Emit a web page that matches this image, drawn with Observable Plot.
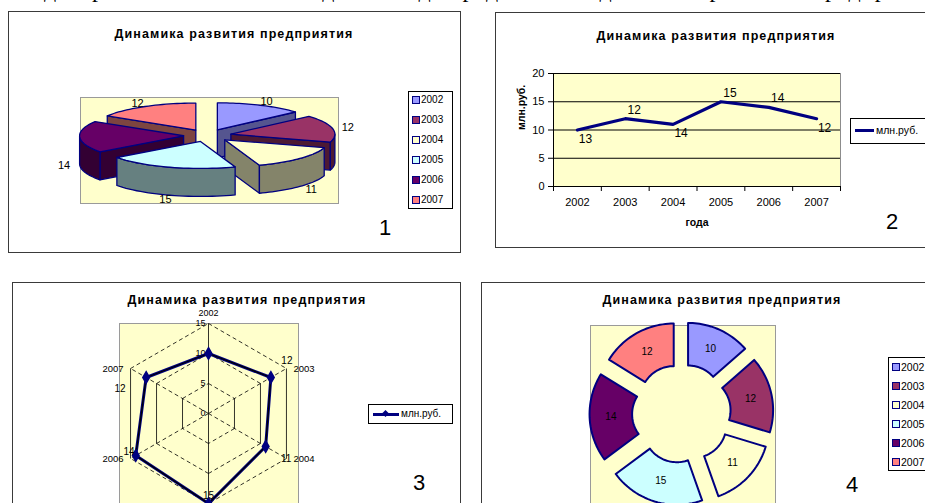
<!DOCTYPE html>
<html><head><meta charset="utf-8">
<script src="https://cdn.jsdelivr.net/npm/d3@7"></script>
<script src="https://cdn.jsdelivr.net/npm/@observablehq/plot@0.6"></script>
<style>
body{margin:0;background:#fff;font-family:"Liberation Sans",Arial,sans-serif;color:#000;}
#page{position:relative;width:925px;height:503px;overflow:hidden;background:#fff;}
.panel{position:absolute;border:1.5px solid #3a3a3a;box-sizing:border-box;}
.yellow{position:absolute;background:#FFFFCC;border:1px solid #9a9a9a;box-sizing:border-box;}
.title{position:absolute;font-weight:bold;font-size:12.5px;letter-spacing:1.1px;white-space:nowrap;transform:translate(-50%,-50%);}
.num{position:absolute;font-size:22px;transform:translate(-50%,-50%);}
.legend{position:absolute;border:1px solid #000;background:#fff;box-sizing:border-box;}
.lg-item{position:absolute;font-size:10px;white-space:nowrap;}
.sw{position:absolute;width:6px;height:6px;border:1px solid #000080;}
.chart{position:absolute;}
#topline{position:absolute;left:-4px;top:-24px;font-family:"Liberation Serif","Times New Roman",serif;font-size:24px;white-space:nowrap;letter-spacing:0.6px;color:#000;-webkit-font-smoothing:antialiased;}
</style></head>
<body><div id="page"></div>
<script>
// ---------------- data ----------------
const years = ["2002", "2003", "2004", "2005", "2006", "2007"];
const values = [10, 12, 11, 15, 14, 12];
const lineLabels = ["13", "12", "14", "15", "14", "12"];   // labels as printed on chart 2
const yTicks = [0, 5, 10, 15, 20];
const radarTicks = [0, 5, 10, 15];
const seriesName = "млн.руб.";
const chartTitle = "Динамика развития предприятия";
const xTitle = "года";
// palette (Excel classic)
const topColors = ["#9999FF", "#993366", "#FFFFCC", "#CCFFFF", "#660066", "#FF8080"];
const sideColors = ["#55558f", "#4d1a33", "#84846a", "#668080", "#330033", "#7d4540"];
const NAVY = "#000080";

const page = document.getElementById("page");
function el(cls, css, html) {
  const d = document.createElement("div");
  if (cls) d.className = cls;
  Object.assign(d.style, css);
  if (html != null) d.textContent = html;
  page.appendChild(d);
  return d;
}
const baseStyle = {background: "transparent", fontFamily: "'Liberation Sans', Arial, sans-serif", fontSize: "11px", color: "#000", overflow: "visible"};

// top cut-off line of text
const tl = el(null, {}, "ные диаграммы на основании данных где представлена динамика развития предприятия");
tl.id = "topline";

// ---------------- panel frames ----------------
el("panel", {left: "8px", top: "11px", width: "453px", height: "242px"});
el("panel", {left: "495px", top: "12px", width: "440px", height: "236px"});
el("panel", {left: "12px", top: "282px", width: "449px", height: "240px"});
el("panel", {left: "481px", top: "282px", width: "460px", height: "240px"});

el("yellow", {left: "80px", top: "97px", width: "259px", height: "107px"});
el("yellow", {left: "119px", top: "323px", width: "180px", height: "200px"});
el("yellow", {left: "590px", top: "325px", width: "186px", height: "200px"});

const pie = d3.pie().sort(null).value(d => d)(values);
const mid = p => (p.startAngle + p.endAngle) / 2;
function arcPts(a0, a1, r, ox, oy, dy = 0, n = 28) {
  const pts = [];
  for (let k = 0; k <= n; k++) {
    const a = a0 + (a1 - a0) * k / n;
    pts.push({x: ox + r * Math.sin(a), y: oy - r * Math.cos(a) + dy});
  }
  return pts;
}
function poly(pts, fill, sw = 1.3) {
  return Plot.line(pts, {x: "x", y: "y", curve: "linear-closed", fill, stroke: NAVY, strokeWidth: sw, strokeLinejoin: "round"});
}

// ---------------- chart 1 : exploded 3-D pie ----------------
{
  const W = 450, H = 239, cx = 198, cy = 123, ux = 104, uy = 27;
  const E = 0.23, D = 28 / uy;
  const order = pie.map((p, i) => i).sort((a, b) => Math.cos(mid(pie[b])) - Math.cos(mid(pie[a])));
  const marks = [];
  for (const i of order) {
    const p = pie[i], a0 = p.startAngle, a1 = p.endAngle, m = mid(p);
    const ox = E * Math.sin(m), oy = -E * Math.cos(m);
    const P = (a, dy = 0) => ({x: ox + Math.sin(a), y: oy - Math.cos(a) + dy});
    if (Math.sin(a0) < -1e-6) marks.push(poly([{x: ox, y: oy}, P(a0), P(a0, D), {x: ox, y: oy + D}], sideColors[i]));
    if (Math.sin(a1) > 1e-6) marks.push(poly([{x: ox, y: oy}, P(a1), P(a1, D), {x: ox, y: oy + D}], sideColors[i]));
    const b0 = Math.max(a0, Math.PI / 2), b1 = Math.min(a1, 3 * Math.PI / 2);
    if (b1 > b0) marks.push(poly([...arcPts(b0, b1, 1, ox, oy), ...arcPts(b1, b0, 1, ox, oy, D)], sideColors[i]));
    marks.push(poly([{x: ox, y: oy}, ...arcPts(a0, a1, 1, ox, oy)], topColors[i]));
  }
  const lab = pie.map((p, i) => {
    const m = mid(p), r = 1.38;
    return {x: r * Math.sin(m), y: -r * Math.cos(m) + (Math.cos(m) < 0 ? D : 0), t: String(values[i])};
  });
  marks.push(Plot.text(lab, {x: "x", y: "y", text: "t", fontSize: 11, fill: "#000"}));
  const svg = Plot.plot({
    width: W, height: H, margin: 0, style: baseStyle,
    x: {domain: [-cx / ux, (W - cx) / ux], range: [0, W], axis: null},
    y: {domain: [-cy / uy, (H - cy) / uy], range: [0, H], axis: null},
    marks
  });
  el("chart", {left: "9px", top: "12px"}).appendChild(svg);
}

// ---------------- chart 2 : line ----------------
{
  const rows = years.map((y, i) => ({i, year: y, v: values[i], lab: lineLabels[i], up: i < values.length - 1 && values[i] > values[i + 1]}));
  const svg = Plot.plot({
    width: 429, height: 234, marginLeft: 57, marginTop: 60, marginBottom: 61, marginRight: 85,
    style: baseStyle,
    x: {domain: [0, years.length]},
    y: {domain: [yTicks[0], yTicks[yTicks.length - 1]]},
    marks: [
      Plot.frame({fill: "#FFFFCC", stroke: "#8c8c8c"}),
      Plot.ruleY(yTicks.filter(v => v > 0), {stroke: "#000", strokeWidth: 1}),
      Plot.ruleX([0], {stroke: "#000"}),
      Plot.ruleY([0], {stroke: "#000"}),
      Plot.axisY({ticks: yTicks, tickSize: 5, tickPadding: 4, label: null, fontSize: 11}),
      Plot.axisX({ticks: d3.range(years.length + 1), tickSize: 5, tickFormat: () => "", label: null}),
      Plot.axisX({ticks: years.map((_, i) => i + 0.5), tickSize: 0, tickPadding: 12, tickFormat: d => years[Math.floor(d)], label: null, fontSize: 11}),
      Plot.line(rows, {x: d => d.i + 0.5, y: "v", stroke: NAVY, strokeWidth: 3.2, strokeLinejoin: "round"}),
      Plot.text(rows.filter(d => d.up), {x: d => d.i + 0.5, y: "v", text: "lab", dx: 9, dy: -9, fontSize: 12}),
      Plot.text(rows.filter(d => !d.up), {x: d => d.i + 0.5, y: "v", text: "lab", dx: 8, dy: 9, fontSize: 12}),
      Plot.text([seriesName], {frameAnchor: "left", rotate: -90, dx: -32, fontWeight: "bold", fontSize: 10.5}),
      Plot.text([xTitle], {frameAnchor: "bottom", dy: 39, fontWeight: "bold", fontSize: 10.5})
    ]
  });
  el("chart", {left: "496px", top: "13px"}).appendChild(svg);
}

// ---------------- chart 3 : radar ----------------
{
  const W = 447, H = 220, cx = 195, cy = 130, u = 6;
  const n = years.length;
  const ang = i => 2 * Math.PI * i / n;
  const rows = years.map((y, i) => ({i, year: y, v: values[i], a: ang(i)}));
  const maxT = radarTicks[radarTicks.length - 1];
  const segs = [];
  for (const t of radarTicks.filter(t => t > 0))
    for (let i = 0; i < n; i++) {
      const a = ang(i), b = ang(i + 1);
      segs.push({x1: t * Math.sin(a), y1: -t * Math.cos(a), x2: t * Math.sin(b), y2: -t * Math.cos(b)});
    }
  for (let i = 0; i < n; i++) segs.push({x1: 0, y1: 0, x2: maxT * Math.sin(ang(i)), y2: -maxT * Math.cos(ang(i))});
  const vertical = s => Math.abs(s.x1 - s.x2) < 1e-6;
  const px = d => d.v * Math.sin(d.a), py = d => -d.v * Math.cos(d.a);
  const vx = d => maxT * Math.sin(d.a), vy = d => -maxT * Math.cos(d.a);
  const side = d => Math.sin(d.a) > 0.1 ? "R" : Math.sin(d.a) < -0.1 ? "L" : (Math.cos(d.a) > 0 ? "T" : "B");
  const svg = Plot.plot({
    width: W, height: H, margin: 0, style: baseStyle,
    x: {domain: [-cx / u, (W - cx) / u], range: [0, W], axis: null},
    y: {domain: [-cy / u, (H - cy) / u], range: [0, H], axis: null},
    marks: [
      Plot.link(segs.filter(s => !vertical(s)), {x1: "x1", y1: "y1", x2: "x2", y2: "y2", stroke: "#000", strokeWidth: 0.8, strokeDasharray: "4,3"}),
      Plot.link(segs.filter(vertical), {x1: "x1", y1: "y1", x2: "x2", y2: "y2", stroke: "#000", strokeWidth: 0.8}),
      Plot.text(radarTicks, {x: 0, y: t => -t, text: String, textAnchor: "end", dx: -3, fontSize: 9}),
      Plot.line(rows, {x: px, y: py, curve: "linear-closed", stroke: NAVY, strokeWidth: 3}),
      Plot.line(rows, {x: px, y: py, curve: "linear-closed", stroke: "#000", strokeWidth: 1.3}),
      Plot.dot(rows, {x: px, y: py, symbol: "diamond", r: 3.5, fill: NAVY, stroke: NAVY}),
      // category labels
      Plot.text(rows.filter(d => side(d) === "T"), {x: vx, y: vy, text: "year", dy: -10, fontSize: 9}),
      Plot.text(rows.filter(d => side(d) === "B"), {x: vx, y: vy, text: "year", dy: 16, fontSize: 9}),
      Plot.text(rows.filter(d => side(d) === "R"), {x: vx, y: vy, text: "year", textAnchor: "start", dx: 7, fontSize: 9.5}),
      Plot.text(rows.filter(d => side(d) === "L"), {x: vx, y: vy, text: "year", textAnchor: "end", dx: -7, fontSize: 9.5}),
      // value labels
      Plot.text(rows.filter(d => side(d) === "R" && Math.cos(d.a) > 0), {x: vx, y: vy, text: d => String(d.v), textAnchor: "end", dx: 6, dy: -8, fontSize: 10}),
      Plot.text(rows.filter(d => side(d) === "R" && Math.cos(d.a) < 0), {x: vx, y: vy, text: d => String(d.v), textAnchor: "end", dx: 5, fontSize: 10}),
      Plot.text(rows.filter(d => side(d) === "L" && Math.cos(d.a) < 0), {x: vx, y: vy, text: d => String(d.v), textAnchor: "start", dx: -7, dy: -7, fontSize: 10}),
      Plot.text(rows.filter(d => side(d) === "L" && Math.cos(d.a) > 0), {x: vx, y: vy, text: d => String(d.v), textAnchor: "end", dx: -5, dy: 20, fontSize: 10}),
      Plot.text(rows.filter(d => side(d) === "B"), {x: vx, y: vy, text: d => String(d.v), dy: -8, fontSize: 10})
    ]
  });
  el("chart", {left: "13px", top: "283px"}).appendChild(svg);
}

// ---------------- chart 4 : exploded doughnut ----------------
{
  const W = 443, H = 220, cx = 199, cy = 130, u = 76;
  const E = 0.21, rIn = 0.44;
  const marks = pie.map((p, i) => {
    const m = mid(p), ox = E * Math.sin(m), oy = -E * Math.cos(m);
    return poly([...arcPts(p.startAngle, p.endAngle, 1, ox, oy), ...arcPts(p.endAngle, p.startAngle, rIn, ox, oy)], topColors[i], 2);
  });
  const lab = pie.map((p, i) => {
    const m = mid(p), r = (1 + rIn) / 2 + E;
    return {x: r * Math.sin(m), y: -r * Math.cos(m), t: String(values[i])};
  });
  marks.push(Plot.text(lab, {x: "x", y: "y", text: "t", fontSize: 10, fill: "#000"}));
  const svg = Plot.plot({
    width: W, height: H, margin: 0, style: baseStyle,
    x: {domain: [-cx / u, (W - cx) / u], range: [0, W], axis: null},
    y: {domain: [-cy / u, (H - cy) / u], range: [0, H], axis: null},
    marks
  });
  el("chart", {left: "482px", top: "283px"}).appendChild(svg);
}

// ---------------- titles ----------------
el("title", {left: "234px", top: "34px"}, chartTitle);
el("title", {left: "716px", top: "36px"}, chartTitle);
el("title", {left: "247px", top: "300px"}, chartTitle);
el("title", {left: "722px", top: "300px"}, chartTitle);

// ---------------- legends ----------------
function yearLegend(left, top, w, h, y0, step, fs) {
  el("legend", {left: left + "px", top: top + "px", width: w + "px", height: h + "px"});
  years.forEach((y, i) => {
    el("sw", {left: (left + 4) + "px", top: (y0 + step * i - 4) + "px", background: topColors[i]});
    el("lg-item", {left: (left + 13) + "px", top: (y0 + step * i - 6.5) + "px", fontSize: fs + "px"}, y);
  });
}
yearLegend(408, 91, 45, 118, 100, 20, 10);
yearLegend(888, 357, 60, 114, 367, 19, 10.5);

// line legend (chart 2)
el("legend", {left: "850px", top: "118px", width: "90px", height: "26px"});
el(null, {position: "absolute", left: "855px", top: "129px", width: "19px", height: "3px", background: NAVY});
el("lg-item", {left: "876px", top: "124px", fontSize: "10.5px"}, seriesName);
// radar legend (chart 3)
el("legend", {left: "368px", top: "404px", width: "85px", height: "20px"});
el(null, {position: "absolute", left: "373px", top: "413px", width: "26px", height: "2.5px", background: NAVY});
el(null, {position: "absolute", left: "383px", top: "411px", width: "5px", height: "5px", background: NAVY, transform: "rotate(45deg)"});
el("lg-item", {left: "401px", top: "408px", fontSize: "10px"}, seriesName);

// ---------------- panel numbers ----------------
el("num", {left: "385px", top: "228px"}, "1");
el("num", {left: "892px", top: "222px"}, "2");
el("num", {left: "419px", top: "483px"}, "3");
el("num", {left: "852px", top: "485px"}, "4");
</script>
</body></html>
